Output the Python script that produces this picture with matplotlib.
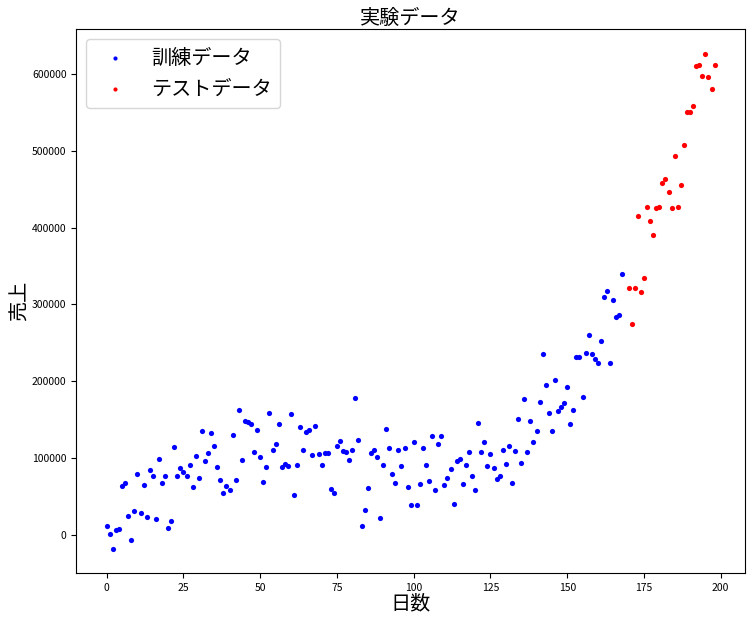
import numpy as np
import matplotlib
matplotlib.use('Agg')
import matplotlib.pyplot as plt

plt.rcParams['font.family'] = ['Noto Sans CJK JP', 'DejaVu Sans']

# 訓練データ (日 0..168)
train_days = np.arange(0, 169)
train_sales = [
    11000, 1000, -17800, 7000, 8300, 63200, 67100, 24000, -6000, 30500,
    78800, 27900, 64500, 22700, 84100, 76200, 20100, 98400, 67100, 76200,
    9600, 17500, 114100, 76200, 86700, 81400, 76200, 90600, 61900, 102300,
    73600, 135000, 95800, 106300, 132400, 115400, 88000, 71000, 54000, 63200,
    57900, 129800, 71000, 162400, 97100, 148000, 146700, 144100, 107600, 136300,
    101000, 68400, 88000, 158500, 110200, 118000, 144100, 88000, 91900, 89300,
    157200, 51400, 90600, 140200, 110200, 133700, 136300, 103600, 141500, 104900,
    90600, 106300, 106300, 59300, 54000, 115400, 121900, 108900, 107600, 97100,
    110200, 178100, 123200, 11000, 31800, 60600, 106300, 110200, 101000, 21400,
    90600, 137600, 112800, 78800, 67100, 110200, 89300, 112800, 61900, 38400,
    120600, 38400, 65800, 112800, 90600, 69700, 128400, 57900, 118000, 128400,
    64500, 73600, 85400, 39700, 95800, 98400, 65800, 90600, 107600, 76200,
    57900, 145400, 107600, 120600, 89300, 104900, 86700, 72300, 76200, 110200,
    91900, 115400, 67100, 108900, 150600, 93200, 176700, 107600, 148000, 120600,
    135000, 172800, 235500, 195000, 158500, 135000, 201600, 161100, 166300, 171500,
    192400, 144100, 162400, 231600, 231600, 179400, 236800, 260300, 235500, 229000,
    223800, 252500, 309900, 317700, 223800, 306000, 283800, 286400, 339900,
]

# テストデータ (日 170..198)
test_days = np.arange(170, 199)
test_sales = [
    321700, 274700, 321700, 414400, 316400, 334700, 426100, 409100, 390900, 424800,
    426100, 457400, 462700, 445700, 424800, 492700, 426100, 454800, 507000, 550100,
    550100, 558000, 610200, 611500, 597100, 625800, 595800, 580200, 611500,
]

fig = plt.figure(figsize=(7.56, 6.2), dpi=100)
ax = fig.add_axes([0.101, 0.0753, 0.8844, 0.8774])

ax.scatter(train_days, train_sales, s=14, c='blue', linewidths=0, label='訓練データ')
ax.scatter(test_days, test_sales, s=14, c='red', linewidths=0, label='テストデータ')

ax.set_title('実験データ', fontsize=14.5, pad=2)
ax.set_xlabel('日数', fontsize=14.5, labelpad=0)
ax.set_ylabel('売上', fontsize=14.5, labelpad=1)
ax.set_xticks([0, 25, 50, 75, 100, 125, 150, 175, 200])
ax.set_yticks([0, 100000, 200000, 300000, 400000, 500000, 600000])
ax.tick_params(labelsize=7.5)
ax.legend(loc='upper left', fontsize=14.5, markerscale=0.8)

plt.savefig('out.png', dpi=100)
